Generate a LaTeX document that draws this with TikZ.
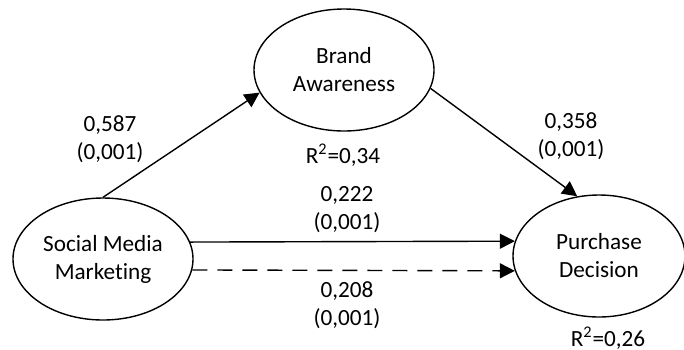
\documentclass[tikz,border=0pt]{standalone}
\usepackage{fontspec}
\setmainfont{Carlito}[Ligatures=NoCommon]
\usetikzlibrary{shapes.geometric, arrows.meta}

\begin{document}
\begin{tikzpicture}[
    x=0.5pt, y=-0.5pt,
    every node/.style = {font=\fontsize{11.6}{14}\selectfont, align=center, inner sep=0pt},
    construct/.style = {draw, ellipse, line width=0.7pt, minimum width=90pt, minimum height=61pt},
    link/.style = {draw, line width=0.7pt, -{Triangle[length=7.5pt, width=7.5pt]}}
]
    \useasboundingbox (0,0) rectangle (684,349);

    \node (smm) [construct] at (103,259) {Social Media\\Marketing};
    \node (ba) [construct] at (344,70) {Brand\\Awareness};
    \node (pd) [construct, minimum width=86pt] at (599,256) {Purchase\\Decision};

    % path coefficients (p-values)
    \node (smmba) at (110,139) {0,587\\(0,001)};
    \node (bapd) at (571,136) {0,358\\(0,001)};
    \node (smmpd) at (347,210) {0,222\\(0,001)};
    \node (indirect) at (347,305) {0,208\\(0,001)};

    % explained variance
    \node (r2ba) at (343,155) {R\textsuperscript{2}=0,34};
    \node (r2pd) at (608,338) {R\textsuperscript{2}=0,26};

    \draw [link] (smm.north) -- (ba.195);
    \draw [link] (ba.-12) -- (pd.110);
    \draw [link] (smm.11) -- (pd.170.5);
    \draw [link, dash pattern=on 7.5pt off 5pt] (smm.-7.7) -- (pd.190.2);
\end{tikzpicture}
\end{document}
